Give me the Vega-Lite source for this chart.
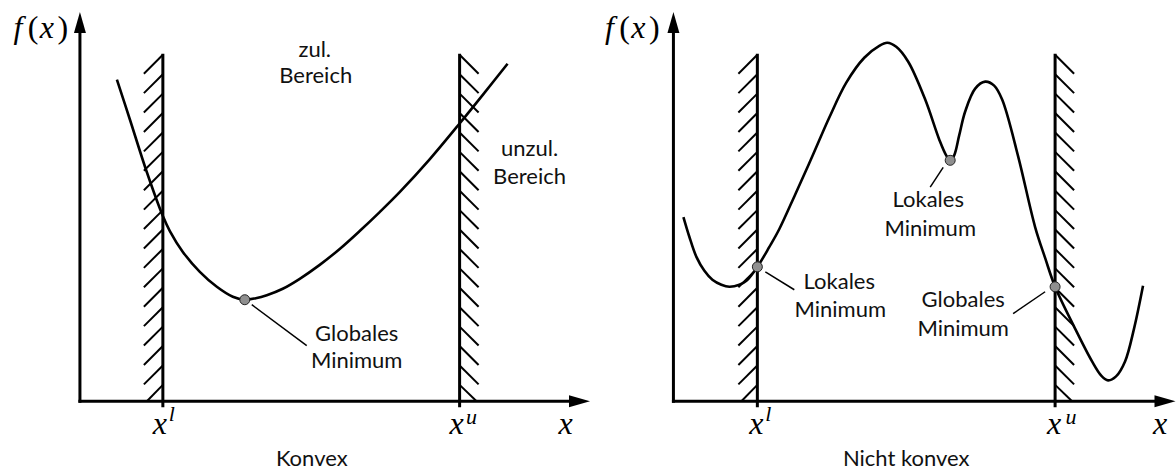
{
  "$schema": "https://vega.github.io/schema/vega-lite/v6.json",
  "width": 1176,
  "height": 470,
  "padding": 0,
  "autosize": {"type": "fit", "contains": "padding"},
  "background": "white",
  "config": {"view": {"stroke": null}},
  "datasets": {
    "curves": [
      {"panel": "konvex", "x": 117, "y": 390}, {"panel": "konvex", "x": 130, "y": 350}, {"panel": "konvex", "x": 147, "y": 297},
      {"panel": "konvex", "x": 163, "y": 253}, {"panel": "konvex", "x": 170, "y": 238}, {"panel": "konvex", "x": 183, "y": 217},
      {"panel": "konvex", "x": 200, "y": 197}, {"panel": "konvex", "x": 217, "y": 182}, {"panel": "konvex", "x": 233, "y": 172},
      {"panel": "konvex", "x": 245, "y": 169}, {"panel": "konvex", "x": 256, "y": 170.5}, {"panel": "konvex", "x": 267, "y": 173.5},
      {"panel": "konvex", "x": 283, "y": 180}, {"panel": "konvex", "x": 300, "y": 190}, {"panel": "konvex", "x": 320, "y": 204},
      {"panel": "konvex", "x": 340, "y": 220}, {"panel": "konvex", "x": 360, "y": 238}, {"panel": "konvex", "x": 380, "y": 257},
      {"panel": "konvex", "x": 400, "y": 277}, {"panel": "konvex", "x": 430, "y": 310}, {"panel": "konvex", "x": 460, "y": 346},
      {"panel": "konvex", "x": 485, "y": 377}, {"panel": "konvex", "x": 508, "y": 406},
      {"panel": "nicht", "x": 684, "y": 252}, {"panel": "nicht", "x": 690, "y": 232}, {"panel": "nicht", "x": 697, "y": 212},
      {"panel": "nicht", "x": 705, "y": 198}, {"panel": "nicht", "x": 713, "y": 189}, {"panel": "nicht", "x": 722, "y": 184},
      {"panel": "nicht", "x": 730, "y": 182}, {"panel": "nicht", "x": 740, "y": 184}, {"panel": "nicht", "x": 747, "y": 188},
      {"panel": "nicht", "x": 758, "y": 202}, {"panel": "nicht", "x": 770, "y": 222}, {"panel": "nicht", "x": 780, "y": 240},
      {"panel": "nicht", "x": 796, "y": 275}, {"panel": "nicht", "x": 813, "y": 313}, {"panel": "nicht", "x": 830, "y": 352},
      {"panel": "nicht", "x": 847, "y": 387}, {"panel": "nicht", "x": 865, "y": 412}, {"panel": "nicht", "x": 880, "y": 424},
      {"panel": "nicht", "x": 888, "y": 427}, {"panel": "nicht", "x": 897, "y": 423}, {"panel": "nicht", "x": 909, "y": 408},
      {"panel": "nicht", "x": 926, "y": 370}, {"panel": "nicht", "x": 940, "y": 330}, {"panel": "nicht", "x": 947, "y": 314},
      {"panel": "nicht", "x": 951, "y": 309}, {"panel": "nicht", "x": 955, "y": 314}, {"panel": "nicht", "x": 960, "y": 334},
      {"panel": "nicht", "x": 966, "y": 358}, {"panel": "nicht", "x": 976, "y": 381}, {"panel": "nicht", "x": 986, "y": 388},
      {"panel": "nicht", "x": 995, "y": 384}, {"panel": "nicht", "x": 1003, "y": 370}, {"panel": "nicht", "x": 1019, "y": 313},
      {"panel": "nicht", "x": 1036, "y": 242}, {"panel": "nicht", "x": 1046, "y": 211}, {"panel": "nicht", "x": 1056, "y": 182},
      {"panel": "nicht", "x": 1076, "y": 140}, {"panel": "nicht", "x": 1093, "y": 107}, {"panel": "nicht", "x": 1102, "y": 93},
      {"panel": "nicht", "x": 1109, "y": 88}, {"panel": "nicht", "x": 1117, "y": 92}, {"panel": "nicht", "x": 1126, "y": 107},
      {"panel": "nicht", "x": 1135, "y": 140}, {"panel": "nicht", "x": 1144, "y": 183}
    ],
    "hatches": [
      {"x1": 163, "y1": 415, "x2": 144, "y2": 396}, {"x1": 163, "y1": 395.5, "x2": 144, "y2": 376.5}, {"x1": 163, "y1": 376, "x2": 144, "y2": 357},
      {"x1": 163, "y1": 356.5, "x2": 144, "y2": 337.5}, {"x1": 163, "y1": 337, "x2": 144, "y2": 318}, {"x1": 163, "y1": 317.5, "x2": 144, "y2": 298.5},
      {"x1": 163, "y1": 298, "x2": 144, "y2": 279}, {"x1": 163, "y1": 278.5, "x2": 144, "y2": 259.5}, {"x1": 163, "y1": 259, "x2": 144, "y2": 240},
      {"x1": 163, "y1": 239.5, "x2": 144, "y2": 220.5}, {"x1": 163, "y1": 220, "x2": 144, "y2": 201}, {"x1": 163, "y1": 200.5, "x2": 144, "y2": 181.5},
      {"x1": 163, "y1": 181, "x2": 144, "y2": 162}, {"x1": 163, "y1": 161.5, "x2": 144, "y2": 142.5}, {"x1": 163, "y1": 142, "x2": 144, "y2": 123},
      {"x1": 163, "y1": 122.5, "x2": 144, "y2": 103.5}, {"x1": 163, "y1": 103, "x2": 144, "y2": 84}, {"x1": 163, "y1": 83.5, "x2": 147, "y2": 67},
      {"x1": 460, "y1": 415, "x2": 479, "y2": 396}, {"x1": 460, "y1": 395.5, "x2": 479, "y2": 376.5}, {"x1": 460, "y1": 376, "x2": 479, "y2": 357},
      {"x1": 460, "y1": 356.5, "x2": 479, "y2": 337.5}, {"x1": 460, "y1": 337, "x2": 479, "y2": 318}, {"x1": 460, "y1": 317.5, "x2": 479, "y2": 298.5},
      {"x1": 460, "y1": 298, "x2": 479, "y2": 279}, {"x1": 460, "y1": 278.5, "x2": 479, "y2": 259.5}, {"x1": 460, "y1": 259, "x2": 479, "y2": 240},
      {"x1": 460, "y1": 239.5, "x2": 479, "y2": 220.5}, {"x1": 460, "y1": 220, "x2": 479, "y2": 201}, {"x1": 460, "y1": 200.5, "x2": 479, "y2": 181.5},
      {"x1": 460, "y1": 181, "x2": 479, "y2": 162}, {"x1": 460, "y1": 161.5, "x2": 479, "y2": 142.5}, {"x1": 460, "y1": 142, "x2": 479, "y2": 123},
      {"x1": 460, "y1": 122.5, "x2": 479, "y2": 103.5}, {"x1": 460, "y1": 103, "x2": 479, "y2": 84}, {"x1": 460, "y1": 83.5, "x2": 477, "y2": 67},
      {"x1": 758, "y1": 415, "x2": 739, "y2": 396}, {"x1": 758, "y1": 395.5, "x2": 739, "y2": 376.5}, {"x1": 758, "y1": 376, "x2": 739, "y2": 357},
      {"x1": 758, "y1": 356.5, "x2": 739, "y2": 337.5}, {"x1": 758, "y1": 337, "x2": 739, "y2": 318}, {"x1": 758, "y1": 317.5, "x2": 739, "y2": 298.5},
      {"x1": 758, "y1": 298, "x2": 739, "y2": 279}, {"x1": 758, "y1": 278.5, "x2": 739, "y2": 259.5}, {"x1": 758, "y1": 259, "x2": 739, "y2": 240},
      {"x1": 758, "y1": 239.5, "x2": 739, "y2": 220.5}, {"x1": 758, "y1": 220, "x2": 739, "y2": 201}, {"x1": 758, "y1": 200.5, "x2": 739, "y2": 181.5},
      {"x1": 758, "y1": 181, "x2": 739, "y2": 162}, {"x1": 758, "y1": 161.5, "x2": 739, "y2": 142.5}, {"x1": 758, "y1": 142, "x2": 739, "y2": 123},
      {"x1": 758, "y1": 122.5, "x2": 739, "y2": 103.5}, {"x1": 758, "y1": 103, "x2": 739, "y2": 84}, {"x1": 758, "y1": 83.5, "x2": 742, "y2": 67},
      {"x1": 1056, "y1": 415, "x2": 1075, "y2": 396}, {"x1": 1056, "y1": 395.5, "x2": 1075, "y2": 376.5}, {"x1": 1056, "y1": 376, "x2": 1075, "y2": 357},
      {"x1": 1056, "y1": 356.5, "x2": 1075, "y2": 337.5}, {"x1": 1056, "y1": 337, "x2": 1075, "y2": 318}, {"x1": 1056, "y1": 317.5, "x2": 1075, "y2": 298.5},
      {"x1": 1056, "y1": 298, "x2": 1075, "y2": 279}, {"x1": 1056, "y1": 278.5, "x2": 1075, "y2": 259.5}, {"x1": 1056, "y1": 259, "x2": 1075, "y2": 240},
      {"x1": 1056, "y1": 239.5, "x2": 1075, "y2": 220.5}, {"x1": 1056, "y1": 220, "x2": 1075, "y2": 201}, {"x1": 1056, "y1": 200.5, "x2": 1075, "y2": 181.5},
      {"x1": 1056, "y1": 181, "x2": 1075, "y2": 162}, {"x1": 1056, "y1": 161.5, "x2": 1075, "y2": 142.5}, {"x1": 1056, "y1": 142, "x2": 1075, "y2": 123},
      {"x1": 1056, "y1": 122.5, "x2": 1075, "y2": 103.5}, {"x1": 1056, "y1": 103, "x2": 1075, "y2": 84}, {"x1": 1056, "y1": 83.5, "x2": 1073, "y2": 67}
    ],
    "bounds": [
      {"x1": 163, "y1": 416, "x2": 163, "y2": 61},
      {"x1": 460, "y1": 416, "x2": 460, "y2": 61},
      {"x1": 758, "y1": 416, "x2": 758, "y2": 61},
      {"x1": 1056, "y1": 416, "x2": 1056, "y2": 61}
    ],
    "axes": [
      {"x1": 80, "y1": 67, "x2": 80, "y2": 440},
      {"x1": 80, "y1": 67, "x2": 575, "y2": 67},
      {"x1": 674, "y1": 67, "x2": 674, "y2": 440},
      {"x1": 674, "y1": 67, "x2": 1166, "y2": 67}
    ],
    "leaders": [
      {"x1": 252, "y1": 164, "x2": 307, "y2": 123},
      {"x1": 944, "y1": 302, "x2": 931, "y2": 282},
      {"x1": 766, "y1": 197, "x2": 795, "y2": 179},
      {"x1": 1046, "y1": 177, "x2": 1014, "y2": 155}
    ],
    "uparrows": [{"x": 80, "y": 447.5}, {"x": 674, "y": 447.5}],
    "rightarrows": [{"x": 580, "y": 67}, {"x": 1166, "y": 67}],
    "minima": [{"x": 245, "y": 169}, {"x": 758, "y": 202}, {"x": 951, "y": 309}, {"x": 1056, "y": 182}],
    "labels": [
      {"x": 315, "y": 413, "label": "zul."}, {"x": 316, "y": 387, "label": "Bereich"},
      {"x": 530, "y": 313, "label": "unzul."}, {"x": 530, "y": 285, "label": "Bereich"},
      {"x": 357, "y": 128, "label": "Globales"}, {"x": 357, "y": 100, "label": "Minimum"},
      {"x": 929, "y": 262, "label": "Lokales"}, {"x": 931, "y": 233, "label": "Minimum"},
      {"x": 840, "y": 180, "label": "Lokales"}, {"x": 841, "y": 152, "label": "Minimum"},
      {"x": 964, "y": 162, "label": "Globales"}, {"x": 964, "y": 133, "label": "Minimum"},
      {"x": 312, "y": 2, "label": "Konvex"}, {"x": 907, "y": 2, "label": "Nicht konvex"}
    ],
    "math": [
      {"x": 18, "y": 432, "label": "f"}, {"x": 47, "y": 432, "label": "x"},
      {"x": 610, "y": 432, "label": "f"}, {"x": 639, "y": 432, "label": "x"},
      {"x": 160, "y": 34, "label": "x"}, {"x": 457, "y": 34, "label": "x"},
      {"x": 757, "y": 34, "label": "x"}, {"x": 1055, "y": 34, "label": "x"},
      {"x": 566, "y": 34, "label": "x"}, {"x": 1161, "y": 34, "label": "x"}
    ],
    "parens": [
      {"x": 33, "y": 432, "label": "("}, {"x": 63, "y": 432, "label": ")"},
      {"x": 625, "y": 432, "label": "("}, {"x": 655, "y": 432, "label": ")"}
    ],
    "sups": [
      {"x": 172, "y": 47, "label": "l"}, {"x": 472, "y": 44, "label": "u"},
      {"x": 769, "y": 47, "label": "l"}, {"x": 1072, "y": 44, "label": "u"}
    ]
  },
  "layer": [
    {
      "data": {"name": "hatches"},
      "mark": {"type": "rule", "strokeWidth": 2, "color": "black"},
      "encoding": {
        "x": {"field": "x1", "type": "quantitative", "scale": {"domain": [0, 1176], "nice": false, "zero": false}, "axis": null},
        "y": {"field": "y1", "type": "quantitative", "scale": {"domain": [0, 470], "nice": false, "zero": false}, "axis": null},
        "x2": {"field": "x2"},
        "y2": {"field": "y2"}
      }
    },
    {
      "data": {"name": "bounds"},
      "mark": {"type": "rule", "strokeWidth": 3, "color": "black"},
      "encoding": {
        "x": {"field": "x1", "type": "quantitative", "scale": {"domain": [0, 1176], "nice": false, "zero": false}, "axis": null},
        "y": {"field": "y1", "type": "quantitative", "scale": {"domain": [0, 470], "nice": false, "zero": false}, "axis": null},
        "x2": {"field": "x2"},
        "y2": {"field": "y2"}
      }
    },
    {
      "data": {"name": "axes"},
      "mark": {"type": "rule", "strokeWidth": 3, "color": "black", "strokeCap": "square"},
      "encoding": {
        "x": {"field": "x1", "type": "quantitative", "scale": {"domain": [0, 1176], "nice": false, "zero": false}, "axis": null},
        "y": {"field": "y1", "type": "quantitative", "scale": {"domain": [0, 470], "nice": false, "zero": false}, "axis": null},
        "x2": {"field": "x2"},
        "y2": {"field": "y2"}
      }
    },
    {
      "data": {"name": "uparrows"},
      "mark": {"type": "point", "shape": "M0,-1L0.57,1L-0.57,1Z", "filled": true, "color": "black", "size": 441, "opacity": 1, "strokeWidth": 0},
      "encoding": {
        "x": {"field": "x", "type": "quantitative", "scale": {"domain": [0, 1176], "nice": false, "zero": false}, "axis": null},
        "y": {"field": "y", "type": "quantitative", "scale": {"domain": [0, 470], "nice": false, "zero": false}, "axis": null}
      }
    },
    {
      "data": {"name": "rightarrows"},
      "mark": {"type": "point", "shape": "M1,0L-1,0.57L-1,-0.57Z", "filled": true, "color": "black", "size": 441, "opacity": 1, "strokeWidth": 0},
      "encoding": {
        "x": {"field": "x", "type": "quantitative", "scale": {"domain": [0, 1176], "nice": false, "zero": false}, "axis": null},
        "y": {"field": "y", "type": "quantitative", "scale": {"domain": [0, 470], "nice": false, "zero": false}, "axis": null}
      }
    },
    {
      "data": {"name": "curves"},
      "mark": {"type": "line", "interpolate": "catmull-rom", "strokeWidth": 2.6, "color": "black"},
      "encoding": {
        "x": {"field": "x", "type": "quantitative", "scale": {"domain": [0, 1176], "nice": false, "zero": false}, "axis": null},
        "y": {"field": "y", "type": "quantitative", "scale": {"domain": [0, 470], "nice": false, "zero": false}, "axis": null},
        "detail": {"field": "panel"}
      }
    },
    {
      "data": {"name": "leaders"},
      "mark": {"type": "rule", "strokeWidth": 1.5, "color": "black"},
      "encoding": {
        "x": {"field": "x1", "type": "quantitative", "scale": {"domain": [0, 1176], "nice": false, "zero": false}, "axis": null},
        "y": {"field": "y1", "type": "quantitative", "scale": {"domain": [0, 470], "nice": false, "zero": false}, "axis": null},
        "x2": {"field": "x2"},
        "y2": {"field": "y2"}
      }
    },
    {
      "data": {"name": "minima"},
      "mark": {"type": "point", "shape": "circle", "filled": true, "fill": "#8f8f8f", "stroke": "#222222", "strokeWidth": 1, "size": 100, "opacity": 1},
      "encoding": {
        "x": {"field": "x", "type": "quantitative", "scale": {"domain": [0, 1176], "nice": false, "zero": false}, "axis": null},
        "y": {"field": "y", "type": "quantitative", "scale": {"domain": [0, 470], "nice": false, "zero": false}, "axis": null}
      }
    },
    {
      "data": {"name": "labels"},
      "mark": {"type": "text", "font": "Lato", "fontSize": 22, "align": "center", "baseline": "alphabetic", "color": "#111111"},
      "encoding": {
        "x": {"field": "x", "type": "quantitative", "scale": {"domain": [0, 1176], "nice": false, "zero": false}, "axis": null},
        "y": {"field": "y", "type": "quantitative", "scale": {"domain": [0, 470], "nice": false, "zero": false}, "axis": null},
        "text": {"field": "label"}
      }
    },
    {
      "data": {"name": "math"},
      "mark": {"type": "text", "font": "Liberation Serif", "fontStyle": "italic", "fontSize": 32, "align": "center", "baseline": "alphabetic", "color": "black"},
      "encoding": {
        "x": {"field": "x", "type": "quantitative", "scale": {"domain": [0, 1176], "nice": false, "zero": false}, "axis": null},
        "y": {"field": "y", "type": "quantitative", "scale": {"domain": [0, 470], "nice": false, "zero": false}, "axis": null},
        "text": {"field": "label"}
      }
    },
    {
      "data": {"name": "parens"},
      "mark": {"type": "text", "font": "Liberation Serif", "fontSize": 32, "align": "center", "baseline": "alphabetic", "color": "black"},
      "encoding": {
        "x": {"field": "x", "type": "quantitative", "scale": {"domain": [0, 1176], "nice": false, "zero": false}, "axis": null},
        "y": {"field": "y", "type": "quantitative", "scale": {"domain": [0, 470], "nice": false, "zero": false}, "axis": null},
        "text": {"field": "label"}
      }
    },
    {
      "data": {"name": "sups"},
      "mark": {"type": "text", "font": "Liberation Serif", "fontStyle": "italic", "fontSize": 22, "align": "center", "baseline": "alphabetic", "color": "black"},
      "encoding": {
        "x": {"field": "x", "type": "quantitative", "scale": {"domain": [0, 1176], "nice": false, "zero": false}, "axis": null},
        "y": {"field": "y", "type": "quantitative", "scale": {"domain": [0, 470], "nice": false, "zero": false}, "axis": null},
        "text": {"field": "label"}
      }
    }
  ]
}
